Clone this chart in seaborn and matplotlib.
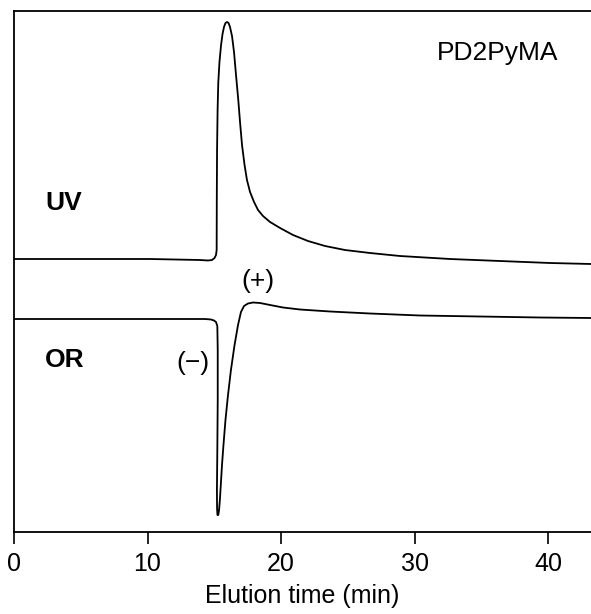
import pandas as pd
import matplotlib
matplotlib.use("Agg")
import matplotlib.pyplot as plt
import seaborn as sns

# UV trace (time in min, signal in arbitrary units)
uv_time = [0.0, 10.19, 13.93, 14.53, 14.83, 15.02, 15.13, 15.18, 15.19, 15.21, 15.25,
           15.30, 15.39, 15.51, 15.62, 15.73, 15.84, 15.96, 16.07, 16.18, 16.33,
           16.48, 16.63, 16.80, 16.93, 17.08, 17.27, 17.45, 17.68, 17.98, 18.28,
           18.65, 19.18, 19.93, 20.90, 22.02, 23.30, 24.79, 26.67, 28.91, 32.66,
           36.40, 40.15, 43.22]
uv_signal = [273, 273, 272, 271.5, 272, 274, 277, 282, 332, 382, 422,
             449, 470, 487, 498, 505, 509, 510, 509, 505, 496,
             480, 457, 432, 410, 387, 367, 352, 340, 330, 322,
             316, 310, 304, 297, 291, 286, 282, 279, 276, 273,
             271, 269, 268]

# optical rotation trace
or_time = [0.0, 10.19, 14.31, 14.76, 14.98, 15.13, 15.23, 15.26, 15.26, 15.23, 15.20,
           15.21, 15.24, 15.30, 15.36, 15.42, 15.49, 15.58, 15.69, 15.84, 16.03,
           16.25, 16.52, 16.78, 17.00, 17.23, 17.53, 17.90, 18.43, 19.18, 20.15,
           21.42, 23.67, 26.67, 30.41, 34.91, 39.40, 43.22]
or_signal = [213, 213, 213, 212.5, 211.5, 210, 206, 182, 132, 82, 42,
             24, 17, 17, 22, 32, 47, 67, 87, 112, 137,
             162, 187, 207, 220, 226, 228.5, 229.5, 229, 227, 224.5,
             222.5, 220.5, 218.5, 216.5, 215.5, 214.5, 214]

xticks = [0, 10, 20, 30, 40]

sns.set_theme(style="ticks")
plt.rcParams['font.family'] = ['Liberation Sans', 'DejaVu Sans']
plt.rcParams['text.color'] = 'black'
plt.rcParams['axes.labelcolor'] = 'black'

uv_df = pd.DataFrame({"time": uv_time, "signal": uv_signal})
or_df = pd.DataFrame({"time": or_time, "signal": or_signal})

fig = plt.figure(figsize=(5.91, 6.14), dpi=100)
ax = fig.add_axes([14 / 591, 82 / 614, 1 - 14 / 591, 521 / 614])

sns.lineplot(data=uv_df, x="time", y="signal", ax=ax, color="black",
             linewidth=1.3, estimator=None, sort=False)
sns.lineplot(data=or_df, x="time", y="signal", ax=ax, color="black",
             linewidth=1.3, estimator=None, sort=False)

ax.set_xlim(0, 43.22)
ax.set_ylim(0, 521)
ax.set_xticks(xticks)
ax.set_yticks([])
ax.set_ylabel("")
ax.set_xlabel("Elution time (min)", fontsize=18, labelpad=6)
ax.tick_params(axis="x", direction="out", length=8.5, width=1.2, labelsize=18,
               pad=6, colors="black")

for side in ["left", "top", "bottom"]:
    ax.spines[side].set_linewidth(1.3)
    ax.spines[side].set_color("black")
ax.spines["right"].set_visible(False)

ax.text(36.25, 479, "PD2PyMA", fontsize=19, ha="center", va="center")
ax.text(2.32, 329, "UV", fontsize=19, fontweight="bold", ha="left", va="center")
ax.text(2.32, 172, "OR", fontsize=19, fontweight="bold", ha="left", va="center")
ax.text(13.41, 169, "(−)", fontsize=19, ha="center", va="center")
ax.text(18.28, 251, "(+)", fontsize=19, ha="center", va="center")

fig.savefig("out.png", dpi=100)
